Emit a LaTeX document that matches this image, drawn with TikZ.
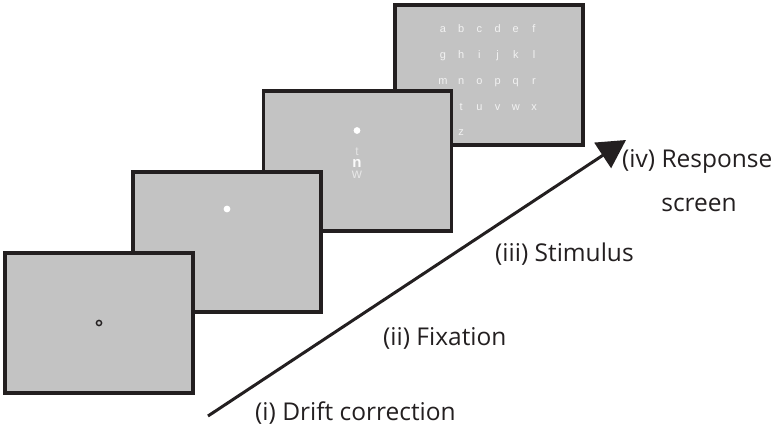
\documentclass[tikz,border=0pt]{standalone}
\usepackage{fontspec}
\newfontfamily\labfont{Open Sans}
\newfontfamily\gridfont{Liberation Sans}
\usetikzlibrary{arrows.meta}
\definecolor{scrgray}{HTML}{C3C3C3}
\definecolor{scrline}{HTML}{231F20}
\definecolor{lettw}{HTML}{F2F2F2}
\begin{document}
\begin{tikzpicture}[x=1pt,y=-1pt,
  screenbox/.style={draw=scrline,fill=scrgray,line width=3.2pt,minimum width=188pt,minimum height=140pt,inner sep=0pt,outer sep=0pt},
  gridletter/.style={font=\gridfont\fontsize{11}{11}\selectfont,text=lettw,anchor=base,inner sep=0pt},
  stimletter/.style={font=\gridfont\fontsize{14}{14}\selectfont,anchor=base,inner sep=0pt,text depth=0pt},
  steplabel/.style={font=\labfont\fontsize{24.5}{24.5}\selectfont,text=scrline,anchor=base west,inner sep=0pt}]
\useasboundingbox (0,0) rectangle (776,428);
% screen 4 (response)
\node[screenbox] (s4) at (489,75) {};
\foreach \l/\c/\r in {a/0/0,b/1/0,c/2/0,d/3/0,e/4/0,f/5/0,
                      g/0/1,h/1/1,i/2/1,j/3/1,k/4/1,l/5/1,
                      m/0/2,n/1/2,o/2/2,p/3/2,q/4/2,r/5/2,
                      t/1/3,u/2/3,v/3/3,w/4/3,x/5/3,
                      z/1/4}
  \node[gridletter] (g\l) at ({443+18.2*\c},{33+25.7*\r}) {\l};
% screen 3 (stimulus)
\node[screenbox] (s3) at (357.5,161) {};
\fill[white] (357,130.5) circle (3.4pt) coordinate (d3);
\node[stimletter,text=white!55!scrgray,font=\gridfont\fontsize{12}{12}\selectfont,text height=0.65em] (lt) at (357,155) {t};
\node[stimletter,text=white!92!scrgray,font=\gridfont\bfseries\fontsize{15}{15}\selectfont,text height=0.52em] (ln) at (357,167.5) {n};
\node[stimletter,text=white!60!scrgray,text height=0.52em] (lw) at (357,178.5) {w};
% screen 2 (fixation)
\node[screenbox] (s2) at (227,242) {};
\fill[white] (227,209) circle (3.4pt) coordinate (d2);
% screen 1 (drift correction)
\node[screenbox] (s1) at (99,323) {};
\draw[scrline,line width=1.4pt] (99,323) circle (2.6pt) coordinate (d1);
% arrow
\coordinate (astart) at (208,416);
\coordinate (aend) at (626,140);
\draw[scrline,line width=3pt,-{Triangle[length=28pt,width=30pt]}] (astart) -- (aend);
% labels
\node[steplabel] (l1) at (255,420) {(i) Drift correction};
\node[steplabel] (l2) at (383,345) {(ii) Fixation};
\node[steplabel] (l3) at (495,261) {(iii) Stimulus};
\node[steplabel] (l4) at (622,167) {(iv) Response};
\node[steplabel,anchor=base] (l4b) at (699,211) {screen};
\end{tikzpicture}
\end{document}
